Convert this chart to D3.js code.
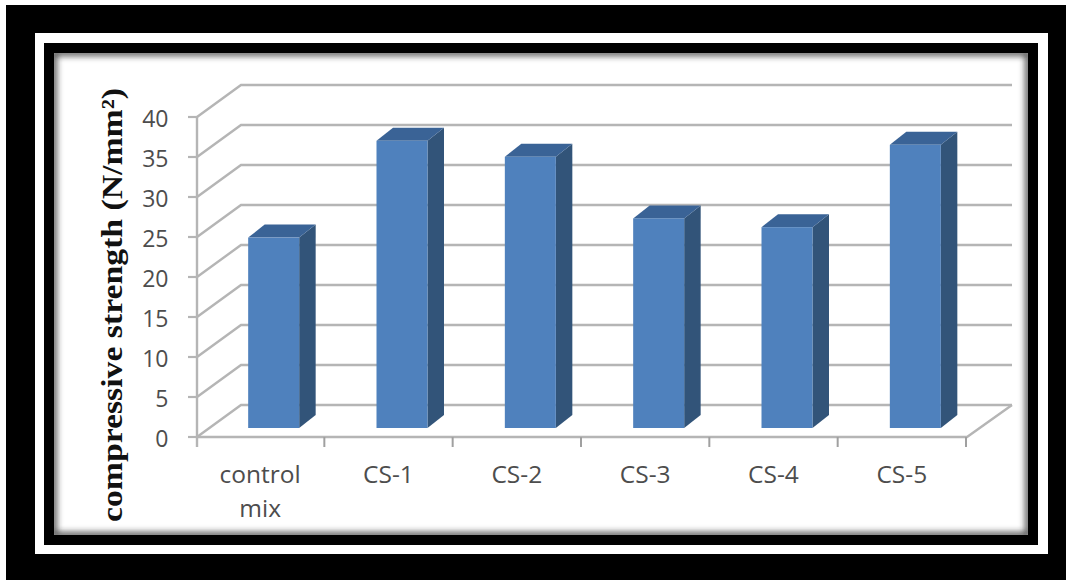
<!DOCTYPE html>
<html>
<head>
<meta charset="utf-8">
<script src="https://cdn.jsdelivr.net/npm/d3@7"></script>
<style>
  html, body { margin: 0; padding: 0; background: #fff; }
  svg { display: block; }
</style>
</head>
<body>
<svg id="chart" width="1066" height="580"></svg>
<script>
// Compressive strength per mix, N/mm²
const categories = [["control", "mix"], ["CS-1"], ["CS-2"], ["CS-3"], ["CS-4"], ["CS-5"]];
const strengths = [23.8, 35.9, 33.9, 26.2, 25.1, 35.4];
const yTicks = [0, 5, 10, 15, 20, 25, 30, 35, 40];
const yTitle = "compressive strength (N/mm²)";

const svg = d3.select("#chart");

// Nested picture frame
const frameRects = [
  { x: 6, y: 5, w: 1060, h: 575, fill: "#000" },
  { x: 35, y: 33, w: 1013, h: 521, fill: "#fff" },
  { x: 44, y: 43, w: 994, h: 502, fill: "#000" },
  { x: 54, y: 53, w: 974, h: 482, fill: "#fff" }
];
svg.selectAll("rect.frame").data(frameRects).join("rect")
  .attr("class", "frame")
  .attr("x", d => d.x).attr("y", d => d.y)
  .attr("width", d => d.w).attr("height", d => d.h)
  .attr("fill", d => d.fill);

// Soft inner shadow along the panel edge
const defs = svg.append("defs");
defs.append("filter").attr("id", "edgeBlur")
  .attr("x", "-5%").attr("y", "-5%").attr("width", "110%").attr("height", "110%")
  .append("feGaussianBlur").attr("stdDeviation", 3);
defs.append("clipPath").attr("id", "panelClip").append("rect")
  .attr("x", 54).attr("y", 53).attr("width", 974).attr("height", 482);
svg.append("g").attr("clip-path", "url(#panelClip)").append("rect")
  .attr("x", 54).attr("y", 53).attr("width", 974).attr("height", 482)
  .attr("fill", "none").attr("stroke", "#333").attr("stroke-width", 5)
  .attr("filter", "url(#edgeBlur)");

// Scales on the front plane of the 3D box
const y = d3.scaleLinear().domain([0, 40]).range([437, 117]);
const x = d3.scaleBand().domain(d3.range(categories.length)).range([197, 967]);

// Box depth and the depth at which the bars stand
const wallDx = 44, wallDy = -32;
const barDepthDx = 16.5, barDepthDy = -13;
const barShiftDx = 12.5, barShiftDy = -9;
const barWidth = 51;
const gridColor = "#b5b5b5";
const labelFont = "'Open Sans', sans-serif";
const pathLine = d3.line();

const plot = svg.append("g");

// Wall gridlines: side wall segment then the back wall run
plot.selectAll("path.grid").data(yTicks).join("path")
  .attr("class", "grid")
  .attr("fill", "none")
  .attr("stroke", gridColor)
  .attr("stroke-width", 2.4)
  .attr("d", t => pathLine([
    [x.range()[0], y(t)],
    [x.range()[0] + wallDx, y(t) + wallDy],
    [x.range()[1] + wallDx + 1, y(t) + wallDy]
  ]));

// Floor front edge and right edge
plot.append("path").attr("fill", "none").attr("stroke", gridColor).attr("stroke-width", 2.4)
  .attr("d", pathLine([
    [x.range()[0], y(0)],
    [x.range()[1], y(0)],
    [x.range()[1] + wallDx + 1, y(0) + wallDy]
  ]));

// Vertical axis
plot.append("line").attr("stroke", gridColor).attr("stroke-width", 2.4)
  .attr("x1", x.range()[0]).attr("x2", x.range()[0])
  .attr("y1", y(40)).attr("y2", y(0) + 10);

// Tick marks
plot.selectAll("line.ytick").data(yTicks).join("line")
  .attr("class", "ytick").attr("stroke", gridColor).attr("stroke-width", 2.2)
  .attr("x1", 188).attr("x2", x.range()[0])
  .attr("y1", t => y(t)).attr("y2", t => y(t));
plot.selectAll("line.xtick").data(d3.range(1, categories.length + 1)).join("line")
  .attr("class", "xtick").attr("stroke", "#a0a0a0").attr("stroke-width", 2)
  .attr("x1", i => x.range()[0] + i * x.step() - 1).attr("x2", i => x.range()[0] + i * x.step() - 1)
  .attr("y1", y(0)).attr("y2", y(0) + 10);

// Bars: side, top, then front face
const bars = plot.selectAll("g.bar").data(strengths).join("g").attr("class", "bar");
const barLeft = (d, i) => x(i) + x.bandwidth() / 2 - barWidth / 2 + barShiftDx;
const barBase = y(0) + barShiftDy;
const barTop = d => y(d) + barShiftDy;

bars.append("path").attr("fill", "#325479")
  .attr("d", (d, i) => {
    const r = barLeft(d, i) + barWidth;
    return pathLine([[r, barTop(d)], [r + barDepthDx, barTop(d) + barDepthDy],
      [r + barDepthDx, barBase + barDepthDy], [r, barBase]]) + "Z";
  });
bars.append("path").attr("fill", "#3a6396")
  .attr("d", (d, i) => {
    const l = barLeft(d, i);
    return pathLine([[l, barTop(d)], [l + barDepthDx, barTop(d) + barDepthDy],
      [l + barWidth + barDepthDx, barTop(d) + barDepthDy], [l + barWidth, barTop(d)]]) + "Z";
  });
bars.append("rect").attr("fill", "#4f81bd")
  .attr("x", barLeft).attr("y", barTop)
  .attr("width", barWidth).attr("height", d => barBase - barTop(d));

// Value axis labels
plot.selectAll("text.ylab").data(yTicks).join("text")
  .attr("class", "ylab")
  .attr("x", 168.5).attr("y", t => y(t) + 10)
  .attr("text-anchor", "end")
  .attr("font-family", labelFont).attr("font-size", 23).attr("fill", "#4d4d4d")
  .text(t => t);

// Category labels, wrapped over two lines where needed
const catLabels = plot.selectAll("text.xlab").data(categories).join("text")
  .attr("class", "xlab")
  .attr("text-anchor", "middle")
  .attr("font-family", labelFont).attr("font-size", 24.5).attr("fill", "#4d4d4d");
catLabels.selectAll("tspan").data((d, i) => d.map((s, k) => ({ s, k, i }))).join("tspan")
  .attr("x", d => x(d.i) + x.bandwidth() / 2 - 1)
  .attr("y", d => 483 + d.k * 33.5)
  .text(d => d.s);

// Axis title, stretched along its run
svg.append("text")
  .attr("transform", "translate(122,305) rotate(-90)")
  .attr("text-anchor", "middle")
  .attr("font-family", "'Liberation Serif', serif")
  .attr("font-weight", "bold")
  .attr("font-size", 30)
  .attr("textLength", 434)
  .attr("lengthAdjust", "spacingAndGlyphs")
  .attr("fill", "#111")
  .text(yTitle);
</script>
</body>
</html>
